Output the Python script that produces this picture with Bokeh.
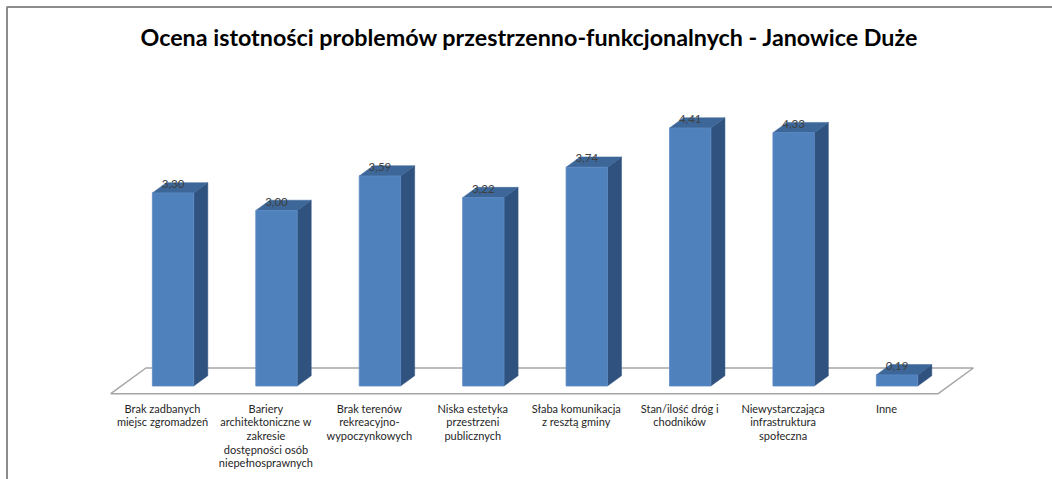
from bokeh.plotting import figure
from bokeh.models import Range1d, Label
from bokeh.core.properties import value
from bokeh.embed import file_html
from bokeh.resources import INLINE

# ---------------- data ----------------
categories = [
    "Brak zadbanych miejsc zgromadzeń",
    "Bariery architektoniczne w zakresie dostępności osób niepełnosprawnych",
    "Brak terenów rekreacyjno-wypoczynkowych",
    "Niska estetyka przestrzeni publicznych",
    "Słaba komunikacja z resztą gminy",
    "Stan/ilość dróg i chodników",
    "Niewystarczająca infrastruktura społeczna",
    "Inne",
]
tick_labels = [
    "Brak zadbanych\nmiejsc zgromadzeń",
    "Bariery\narchitektoniczne w\nzakresie\ndostępności osób\nniepełnosprawnych",
    "Brak terenów\nrekreacyjno-\nwypoczynkowych",
    "Niska estetyka\nprzestrzeni\npublicznych",
    "Słaba komunikacja\nz resztą gminy",
    "Stan/ilość dróg i\nchodników",
    "Niewystarczająca\ninfrastruktura\nspołeczna",
    "Inne",
]
values = [3.30, 3.00, 3.59, 3.22, 3.74, 4.41, 4.33, 0.19]
title_text = "Ocena istotności problemów przestrzenno-funkcjonalnych - Janowice Duże"

# ---------------- layout / style ----------------
W, H = 1052, 479
PX_X = 103.43          # pixels per category
PX_Y = 58.5            # pixels per unit value
X_START = -162 / PX_X  # first category centre 162 px from the left
BASE_PX = 93.5         # value baseline above the bottom edge, px
Y_START = -BASE_PX / PX_Y
Y_END = Y_START + H / PX_Y

DDX, DDY = 0.34, 0.44   # floor depth (data units)
F0, BD = 0.3, 0.4        # bar front depth fraction, bar depth fraction
BW = 0.4                 # bar width (category units)

FRONT = "#4F81BD"
TOP = "#3C6798"
SIDE = "#30527F"
FRAME = "#8C8C8C"


def px_x(px):
    return X_START + px / PX_X


def px_y(px):
    return Y_END - px / PX_Y


p = figure(width=W, height=H, output_backend="svg", toolbar_location=None,
           x_range=Range1d(X_START, X_START + W / PX_X),
           y_range=Range1d(Y_START, Y_END),
           min_border=0)
p.outline_line_color = None
p.grid.visible = False
p.axis.visible = False
p.background_fill_color = "white"
p.border_fill_color = "white"

# chart area frame (top and left edges visible)
p.line([px_x(6.5), px_x(6.5), px_x(W)], [px_y(H), px_y(6.5), px_y(6.5)],
       line_color=FRAME, line_width=2)

# title
p.add_layout(Label(x=W / 2 + 3, y=H - 36, x_units="screen", y_units="screen",
                   text=title_text, text_align="center", text_baseline="middle",
                   text_font="Lato", text_font_style="bold", text_font_size="23.3px",
                   text_color="#000000"))

n = len(values)
# floor plane
fy0 = -F0 * DDY
floor_x = [-0.5, n - 0.5, n - 0.5 + DDX, -0.5 + DDX]
floor_y = [fy0, fy0, fy0 + DDY, fy0 + DDY]
p.patch(floor_x, floor_y, fill_color="white", line_color="#A6A6A6", line_width=1.5)

# category labels along the floor's front edge
p.text(x=list(range(n)), y=[fy0] * n, text=tick_labels, text_align="center",
       text_baseline="top", y_offset=8, text_font=value("Lato"),
       text_font_size="11px", text_color="#262626", text_line_height=1.05)

# 3D bars
bdx, bdy = BD * DDX, BD * DDY
cx = [i + F0 * DDX for i in range(n)]
side_xs, side_ys, top_xs, top_ys = [], [], [], []
for c, v in zip(cx, values):
    r = c + BW / 2
    l = c - BW / 2
    side_xs.append([r, r + bdx, r + bdx, r])
    side_ys.append([0, bdy, v + bdy, v])
    top_xs.append([l, r, r + bdx, l + bdx])
    top_ys.append([v, v, v + bdy, v + bdy])

p.patches(side_xs, side_ys, fill_color=SIDE, line_color=SIDE, line_width=0.5)
p.patches(top_xs, top_ys, fill_color=TOP, line_color=TOP, line_width=0.5)
p.vbar(x=cx, top=values, bottom=0, width=BW, fill_color=FRONT, line_color="#5A8AC4", line_width=0.8)

labels = [f"{v:.2f}".replace(".", ",") for v in values]
p.text(x=cx, y=values, text=labels, text_align="center", text_baseline="alphabetic",
       y_offset=-9, text_font=value("Lato"), text_font_size="11.5px", text_color="#404040")

open("out.html", "w").write(file_html(p, INLINE))
